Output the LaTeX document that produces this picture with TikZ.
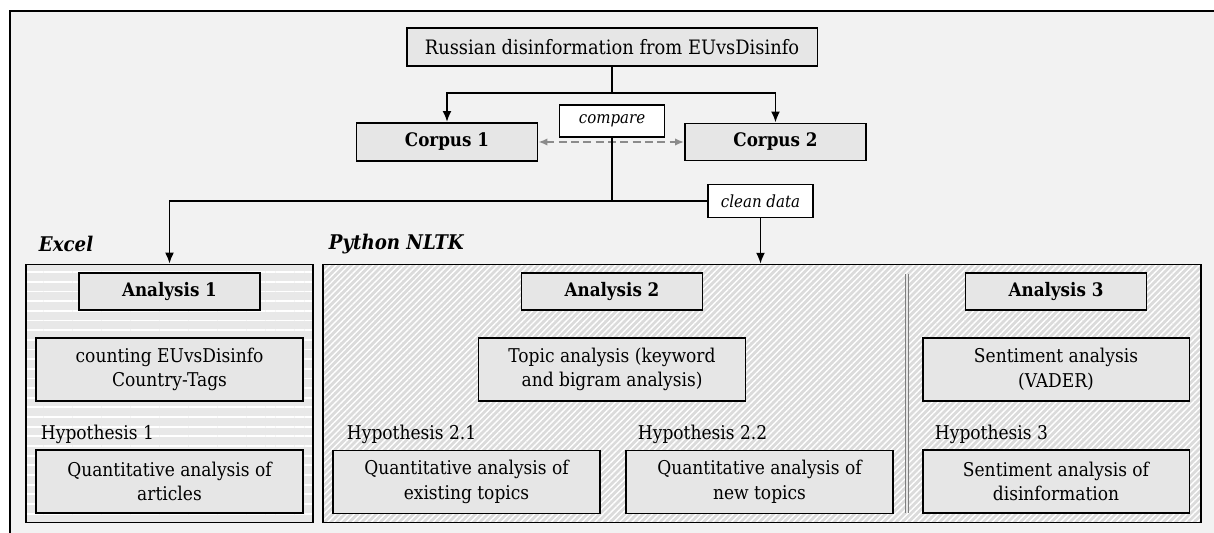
\documentclass[tikz,border=0pt]{standalone}
\usepackage{fontspec}
\setmainfont{DejaVu Serif Condensed}
\usetikzlibrary{arrows.meta, positioning, patterns.meta}
\definecolor{cbg}{HTML}{F2F2F2}
\definecolor{cbox}{HTML}{E6E6E6}
\definecolor{cgrey}{HTML}{8C8C8C}
\definecolor{csep}{HTML}{7F7F7F}
\tikzset{
  every picture/.style={line width=1.1pt},
  box/.style={draw=black, fill=cbox, align=center, inner sep=2pt, minimum width=#1, minimum height=1.26cm, font=\fontsize{10.8}{14}\selectfont},
  box/.default=5.34cm,
  head/.style={box=#1, minimum height=0.74cm, font=\fontsize{10.6}{12}\selectfont\bfseries},
  head/.default=3.62cm,
  remark/.style={draw=black, fill=white, inner sep=2pt, minimum width=2.1cm, font=\fontsize{9.5}{12}\selectfont\itshape},
  panel/.style={draw=black, preaction={fill=#1}, minimum height=5.16cm},
  title/.style={font=\fontsize{11.5}{14}\selectfont\bfseries\itshape, anchor=west, inner sep=0pt},
  hyp/.style={font=\fontsize{10.8}{12}\selectfont, anchor=west, inner sep=0pt},
  arrow/.style={-{Latex[length=2.2mm, width=1.8mm]}},
  dasharrow/.style={{Latex[length=1.8mm, width=1.5mm]}-{Latex[length=1.8mm, width=1.5mm]}, draw=cgrey, dash pattern=on 4.5pt off 2.5pt},
}

\begin{document}
\begin{tikzpicture}[x=0.02cm, y=-0.02cm]
  \useasboundingbox (0,0) rectangle (1214,533);
  \fill[cbg] (10,11) rectangle (1214,533);
  \draw (10,533) -- (10,11) -- (1214,11);
  % source and corpora
  \node[head=8.22cm, minimum height=0.76cm, font=\fontsize{11.3}{14}\selectfont] (src) at (612,47) {Russian disinformation from EUvsDisinfo};
  \node[head, minimum height=0.76cm] (c1) at (447,142) {Corpus 1};
  \node[head] (c2) at (775.5,142) {Corpus 2};
  \node[remark, minimum height=0.64cm] (cmp) at (612,121) {compare};
  \node[remark, minimum height=0.66cm] (clean) at (760.5,201) {clean data};
  \coordinate (split) at (612,93);
  \coordinate (join) at (612,201);
  \draw[dasharrow] (c1) -- (c2);
  \draw (src.south) -- (split);
  \draw[arrow] (split) -| (c1.north);
  \draw[arrow] (split) -| (c2.north);
  % panels
  \node[panel=black!9, minimum width=5.74cm, pattern={Lines[angle=0, distance=5.5pt, line width=1pt]}, pattern color=white] (xl) at (169.5,393.5) {};
  \node[panel=black!14, minimum width=17.56cm, pattern={Lines[angle=45, distance=2.5pt, line width=0.8pt]}, pattern color=white] (py) at (762,393.5) {};
  \node[title] (xltitle) at (38,244) {Excel};
  \node[title] (pytitle) at (328,244) {Python NLTK};
  \draw (cmp.south) -- (join);
  \draw[arrow] (join) -| (xl.north);
  \draw (join) -- (clean.west);
  \draw[arrow] (clean.south) -- (clean.south |- py.north);
  % analysis 1
  \node[head] (an1) at (169.5,291.5) {Analysis 1};
  \node[box] (cnt) at (169.5,369.5) {counting EUvsDisinfo\\Country-Tags};
  \node[hyp] (h1) at (40,434) {Hypothesis 1};
  \node[box] (qa1) at (169.5,481.5) {Quantitative analysis of\\articles};
  % analysis 2
  \node[head] (an2) at (612,291.5) {Analysis 2};
  \node[box] (topic) at (612,369.5) {Topic analysis (keyword\\and bigram analysis)};
  \node[hyp] (h21) at (346,434) {Hypothesis 2.1};
  \node[box] (qa21) at (466.5,482) {Quantitative analysis of\\existing topics};
  \node[hyp] (h22) at (637,434) {Hypothesis 2.2};
  \node[box] (qa22) at (759.5,482) {Quantitative analysis of\\new topics};
  \draw[draw=csep, line width=0.6pt, double=cbox, double distance=1pt] (907,274) -- (907,513);
  % analysis 3
  \node[head] (an3) at (1056,291.5) {Analysis 3};
  \node[box] (sent) at (1056,369.5) {Sentiment analysis\\(VADER)};
  \node[hyp] (h3) at (934,434) {Hypothesis 3};
  \node[box] (sd) at (1056,481.5) {Sentiment analysis of\\disinformation};
\end{tikzpicture}
\end{document}
